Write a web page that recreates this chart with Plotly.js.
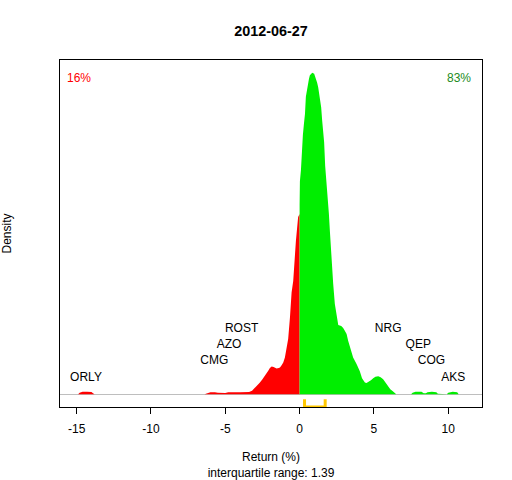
<!DOCTYPE html>
<html>
<head>
<meta charset="utf-8">
<script src="https://cdn.plot.ly/plotly-3.0.1.min.js"></script>
<style>html,body{margin:0;padding:0;background:#fff;}#chart{width:512px;height:480px;}</style>
</head>
<body>
<div id="chart"></div>
<script>
// ---- data ----
const chartDate = '2012-06-27';
const negX = [-16.0,-14.9,-14.8,-14.6,-14.3,-14.0,-13.9,-13.8,-6.4,-6.25,-6.0,-5.7,-5.5,-5.0,-4.8,-4.0,-3.4,-3.2,-3.0,-2.8,-2.67,-2.5,-2.33,-2.2,-2.11,-2.0,-1.88,-1.75,-1.55,-1.4,-1.32,-1.2,-1.1,-0.99,-0.87,-0.77,-0.65,-0.54,-0.43,-0.32,-0.25,-0.1,0];
const negY = [0,0,0.0015,0.0023,0.0024,0.0022,0.0008,0,0,0.001,0.002,0.002,0.0015,0.0012,0.0018,0.002,0.0022,0.0035,0.0066,0.009,0.0116,0.015,0.0183,0.021,0.0233,0.026,0.0276,0.027,0.0256,0.026,0.0266,0.029,0.0316,0.0366,0.045,0.055,0.0766,0.1016,0.113,0.1416,0.153,0.177,0.18];
const posX = [0,0.02,0.09,0.15,0.22,0.29,0.36,0.42,0.49,0.56,0.63,0.69,0.78,0.85,0.98,1.05,1.12,1.18,1.25,1.32,1.39,1.45,1.52,1.59,1.65,1.72,1.79,1.86,1.92,1.97,2.04,2.15,2.26,2.37,2.49,2.6,2.8,2.93,3.05,3.16,3.27,3.38,3.6,3.83,4.05,4.2,4.39,4.5,4.6,4.8,4.95,5.1,5.29,5.45,5.62,5.8,5.96,6.1,6.29,6.5,7.5,7.6,7.8,8.2,8.35,8.5,8.6,8.9,9.2,9.3,9.9,10.0,10.3,10.6,10.7,12.0];
const posY = [0.19,0.2126,0.224,0.247,0.259,0.27,0.28,0.297,0.304,0.31,0.315,0.3186,0.3206,0.321,0.32,0.317,0.3146,0.311,0.3066,0.3,0.293,0.2866,0.273,0.263,0.2516,0.228,0.2166,0.205,0.193,0.18,0.162,0.133,0.11,0.09,0.0766,0.069,0.068,0.066,0.063,0.06,0.053,0.0466,0.0366,0.03,0.023,0.016,0.0116,0.0112,0.012,0.014,0.016,0.0175,0.018,0.017,0.015,0.011,0.0073,0.005,0.0026,0,0,0.0015,0.0023,0.0023,0.001,0.001,0.002,0.0024,0.002,0.0005,0,0.0015,0.0024,0.0018,0,0];
const labelNames = ['ORLY','CMG','AZO','ROST','NRG','QEP','COG','AKS'];
const labelReturns = [-14.37,-5.74,-4.75,-3.9,5.96,7.98,8.87,10.33];
const labelLevels = [1,2,3,4,4,3,2,1];
const pctNeg = 16;
const pctPos = 83;
const q1 = 0.33;
const q3 = 1.72;
const tickVals = [-15,-10,-5,0,5,10];
const tickLabels = ['-15','-10','-5','0','5','10'];

// ---- derived ----
const ymax = Math.max(...posY, ...negY);
const yLo = -0.04 * ymax, yHi = 1.04 * ymax;
const FONT = 'Liberation Sans, Arial, sans-serif';

const traces = [
  {x: negX, y: negY, type: 'scatter', mode: 'lines', fill: 'tozeroy',
   fillcolor: '#FF0000', line: {width: 0, color: '#FF0000'}, hoverinfo: 'skip'},
  {x: posX, y: posY, type: 'scatter', mode: 'lines', fill: 'tozeroy',
   fillcolor: '#00EE00', line: {width: 0, color: '#00EE00'}, hoverinfo: 'skip'},
  {x: [q1, q1, q3, q3], y: [-0.0156 * ymax, yLo, yLo, -0.0156 * ymax],
   type: 'scatter', mode: 'lines', line: {color: '#FFC800', width: 3},
   cliponaxis: false, hoverinfo: 'skip'},
  {x: labelReturns, y: labelLevels.map(l => l * 0.051 * ymax), text: labelNames,
   type: 'scatter', mode: 'text', textposition: 'middle center',
   textfont: {family: FONT, size: 12, color: '#000'}, cliponaxis: false, hoverinfo: 'skip'}
];

const layout = {
  width: 512, height: 480,
  margin: {l: 60, r: 30, t: 60, b: 73, pad: 0},
  paper_bgcolor: '#fff', plot_bgcolor: '#fff',
  showlegend: false,
  font: {family: FONT, size: 12, color: '#000'},
  title: {text: '<b>' + chartDate + '</b>', font: {family: FONT, size: 14.4, color: '#000'},
          x: 0.5, xref: 'paper', y: 1 - 31 / 480, yref: 'container', yanchor: 'middle'},
  xaxis: {range: [-16.12, 12.27], showgrid: false, zeroline: false,
          showline: true, mirror: true, linecolor: '#000', linewidth: 1,
          ticks: 'outside', ticklen: 6, tickcolor: '#000', tickwidth: 1,
          tickvals: tickVals, ticktext: tickLabels, ticklabelstandoff: 5,
          tickfont: {family: FONT, size: 12, color: '#000'},
          title: {text: 'Return (%)<br>interquartile range: ' + (q3 - q1).toFixed(2),
                  font: {family: FONT, size: 12, color: '#000'}, standoff: 18},
          automargin: false},
  yaxis: {range: [yLo, yHi], showgrid: false, zeroline: true, zerolinecolor: '#BEBEBE', zerolinewidth: 1,
          showline: true, mirror: true, linecolor: '#000', linewidth: 1,
          ticks: '', showticklabels: false,
          title: {text: 'Density', font: {family: FONT, size: 12, color: '#000'}, standoff: 44},
          automargin: false},
  annotations: [
    {text: pctNeg + '%', xref: 'paper', yref: 'paper', x: 0.0462, y: 0.948,
     xanchor: 'center', yanchor: 'middle', showarrow: false, font: {family: FONT, size: 12, color: '#FF0000'}},
    {text: pctPos + '%', xref: 'paper', yref: 'paper', x: 0.9455, y: 0.948,
     xanchor: 'center', yanchor: 'middle', showarrow: false, font: {family: FONT, size: 12, color: '#228B22'}}
  ]
};

Plotly.newPlot('chart', traces, layout, {staticPlot: true, displayModeBar: false});
</script>
</body>
</html>
